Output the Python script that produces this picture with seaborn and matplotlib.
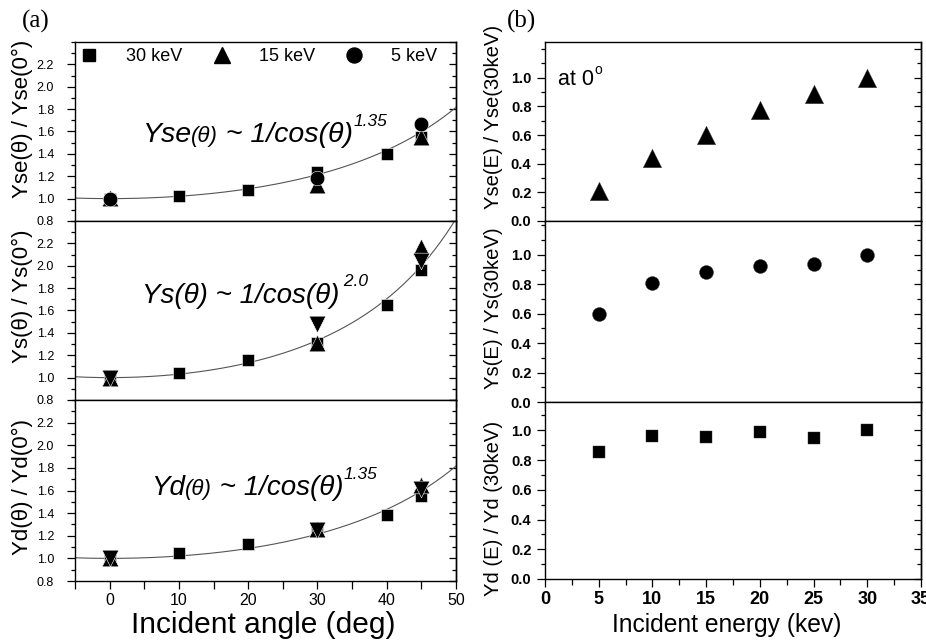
import numpy as np
import matplotlib
matplotlib.use("Agg")
import matplotlib.pyplot as plt
import matplotlib.transforms as mtransforms
from matplotlib.ticker import MultipleLocator, NullFormatter
from matplotlib.lines import Line2D
import seaborn as sns

# ---------------- data : panel (a) ----------------
angles_30 = [0, 10, 20, 30, 40, 45]
angles_sub = [0, 30, 45]
yse_30 = [1.00, 1.02, 1.08, 1.24, 1.40, 1.55]
yse_15 = [1.01, 1.12, 1.55]
yse_5 = [1.00, 1.18, 1.67]
ys_30 = [1.00, 1.04, 1.16, 1.31, 1.65, 1.96]
ys_15 = [1.00, 1.31, 2.17]
ys_5 = [1.00, 1.48, 2.04]
yd_30 = [1.00, 1.05, 1.13, 1.25, 1.38, 1.55]
yd_15 = [1.00, 1.26, 1.65]
yd_5 = [1.00, 1.25, 1.61]
fit_exponents = [1.35, 2.0, 1.35]
legend_labels = ["30 keV", "15 keV", "5 keV"]
left_ylabels = ["Yse(θ) / Yse(0°)", "Ys(θ) / Ys(0°)", "Yd(θ) / Yd(0°)"]
left_xticks = [0, 10, 20, 30, 40, 50]

# ---------------- data : panel (b) ----------------
energies = [5, 10, 15, 20, 25, 30]
yse_E = [0.21, 0.44, 0.60, 0.775, 0.89, 1.00]
ys_E = [0.60, 0.81, 0.885, 0.925, 0.94, 1.00]
yd_E = [0.855, 0.96, 0.955, 0.985, 0.945, 1.00]
right_ylabels = ["Yse(E) / Yse(30keV)", "Ys(E) / Ys(30keV)", "Yd (E) / Yd (30keV)"]
right_xticks = [0, 5, 10, 15, 20, 25, 30, 35]

plt.rcParams.update({
    "font.family": ["Liberation Sans", "DejaVu Sans"],
    "axes.linewidth": 1.0,
    "axes.edgecolor": "black",
    "xtick.color": "black",
    "ytick.color": "black",
    "mathtext.fontset": "dejavusans",
})

fig = plt.figure(figsize=(9.26, 6.43), dpi=100)
W, H = 926.0, 643.0


def ax_px(x0, y0, x1, y1):
    return fig.add_axes([x0 / W, 1 - y1 / H, (x1 - x0) / W, (y1 - y0) / H])


left_axes = [ax_px(75, 42, 456, 221), ax_px(75, 221, 456, 400), ax_px(75, 400, 456, 581)]
right_axes = [ax_px(545, 42, 921, 221), ax_px(545, 221, 921, 402), ax_px(545, 402, 921, 579)]

renderer = fig.canvas.get_renderer()


def rich(ax, x, y, parts):
    """parts: (string, fontsize, y offset in points, style)"""
    dx = 0.0
    for s, size, yoff, style in parts:
        tr = mtransforms.offset_copy(ax.transAxes, fig=fig, x=dx, y=yoff, units="points")
        t = ax.text(x, y, s, transform=tr, fontsize=size, style=style,
                    ha="left", va="baseline", zorder=5)
        dx += t.get_window_extent(renderer).width * 72.0 / fig.dpi
    return dx


def dots(ax, x, y, marker, ms, edge="white", lw=0.4):
    sns.scatterplot(x=x, y=y, ax=ax, marker=marker, s=ms ** 2, color="black",
                    edgecolor=edge, linewidth=lw, legend=False, zorder=3)


def style_axes(ax, xmaj, xmin, ymaj, ymin, ylim, xlim, ypad, bold):
    ax.set_xlim(*xlim)
    ax.set_ylim(*ylim)
    ax.xaxis.set_major_locator(MultipleLocator(xmaj))
    ax.xaxis.set_minor_locator(MultipleLocator(xmin))
    ax.yaxis.set_major_locator(MultipleLocator(ymaj))
    ax.yaxis.set_minor_locator(MultipleLocator(ymin))
    ax.tick_params(axis="both", which="both", direction="out", top=False, right=False, width=0.9)
    ax.tick_params(axis="both", which="major", length=5.5)
    ax.tick_params(axis="y", which="minor", length=3)
    ax.tick_params(axis="x", which="minor", length=5.5 if not bold else 4)
    ax.tick_params(axis="y", pad=ypad, labelsize=10.5 if bold else 9)
    for sp in ax.spines.values():
        sp.set_visible(True)
        sp.set_linewidth(1.0)
    sec = ax.secondary_yaxis("right")
    sec.yaxis.set_major_locator(MultipleLocator(ymaj))
    sec.yaxis.set_minor_locator(MultipleLocator(ymin))
    sec.tick_params(axis="y", which="both", direction="in", labelright=False, width=0.9)
    sec.tick_params(axis="y", which="major", length=5)
    sec.tick_params(axis="y", which="minor", length=3)
    sec.spines["right"].set_linewidth(1.0)


# ---------------- panel (a) ----------------
theta = np.linspace(-5, 50, 300)
panel_a = [
    (angles_30, yse_30, yse_15, yse_5, "o", 10.5),
    (angles_30, ys_30, ys_15, ys_5, "v", 12),
    (angles_30, yd_30, yd_15, yd_5, "v", 12),
]
for i, ax in enumerate(left_axes):
    xa, y30, y15, y5, m5, ms5 = panel_a[i]
    fit = 1.0 / np.cos(np.radians(theta)) ** fit_exponents[i]
    sns.lineplot(x=theta, y=fit, ax=ax, color="#555555", linewidth=0.8, zorder=2)
    dots(ax, xa, y30, "s", 8.6)
    dots(ax, angles_sub, y15, "^", 12)
    dots(ax, angles_sub, y5, m5, ms5)
    style_axes(ax, 10, 5, 0.2, 0.1, (0.8, 2.4), (-5, 50), 9.5, False)
    ax.set_yticks([0.8, 1.0, 1.2, 1.4, 1.6, 1.8, 2.0, 2.2])
    ax.set_ylabel(left_ylabels[i], fontsize=16, va="center")
    ax.yaxis.set_label_coords(-0.139, [0.573, 0.578, 0.522][i])
    if i < 2:
        ax.xaxis.set_major_formatter(NullFormatter())
    else:
        ax.set_xticks(left_xticks)
        ax.tick_params(axis="x", labelsize=11.5, pad=3)
        ax.set_xlabel("Incident angle (deg)", fontsize=21.5, va="baseline")
        ax.xaxis.set_label_coords(0.494, -0.287)

# formulas
rich(left_axes[0], 0.176, 0.441, [("Yse", 20.5, 0, "italic"), ("(θ)", 16, 0, "italic"),
                                  (" ~ 1/cos(θ)", 20.5, 0, "italic"), ("1.35", 12.5, 11.5, "italic")])
rich(left_axes[1], 0.176, 0.542, [("Ys(θ) ~ 1/cos(θ)", 20, 0, "italic"), (" 2.0", 12.5, 12.5, "italic")])
rich(left_axes[2], 0.200, 0.475, [("Yd", 20, 0, "italic"), ("(θ)", 16, 0, "italic"),
                                  (" ~ 1/cos(θ)", 20, 0, "italic"), ("1.35", 12.5, 11.5, "italic")])

handles = [Line2D([], [], ls="none", marker=m, ms=s, color="black", mec="black")
           for m, s in [("s", 8.2), ("^", 12), ("o", 10.8)]]
left_axes[0].legend(handles, legend_labels, ncol=3, frameon=False, fontsize=13,
                    loc="center left", bbox_to_anchor=(0.012, 0.919),
                    borderpad=0, borderaxespad=0, handlelength=1.0,
                    handletextpad=1.55, columnspacing=1.7)

# ---------------- panel (b) ----------------
panel_b = [(yse_E, "^", 13.2), (ys_E, "o", 10), (yd_E, "s", 9)]
right_ylims = [(0, 1.25), (0, 1.23), (0, 1.19)]
for i, ax in enumerate(right_axes):
    yv, m, ms = panel_b[i]
    dots(ax, energies, yv, m, ms, edge="#333333", lw=0.3)
    style_axes(ax, 5, 2.5, 0.2, 0.1, right_ylims[i], (0, 35), 4.3, True)
    ax.set_yticks([0.0, 0.2, 0.4, 0.6, 0.8, 1.0])
    for lab in ax.get_yticklabels():
        lab.set_fontweight("bold")
    ax.set_ylabel(right_ylabels[i], fontsize=14.6, va="center")
    ax.yaxis.set_label_coords(-0.137, [0.58, 0.52, 0.40][i])
    if i < 2:
        ax.xaxis.set_major_formatter(NullFormatter())
    else:
        ax.set_xticks(right_xticks)
        ax.tick_params(axis="x", labelsize=13, pad=3)
        for lab in ax.get_xticklabels():
            lab.set_fontweight("bold")
        ax.set_xlabel("Incident energy (kev)", fontsize=17.7, va="baseline")
        ax.xaxis.set_label_coords(0.484, -0.30)

rich(right_axes[0], 0.035, 0.76, [("at 0", 15.5, 0, "normal"), ("o", 10, 8, "normal")])

fig.text(36 / W, 1 - 28 / H, "(a)", ha="center", va="baseline", fontsize=18,
         family=["Liberation Serif", "DejaVu Serif"])
fig.text(522 / W, 1 - 28 / H, "(b)", ha="center", va="baseline", fontsize=18,
         family=["Liberation Serif", "DejaVu Serif"])

fig.savefig("out.png", dpi=100)
